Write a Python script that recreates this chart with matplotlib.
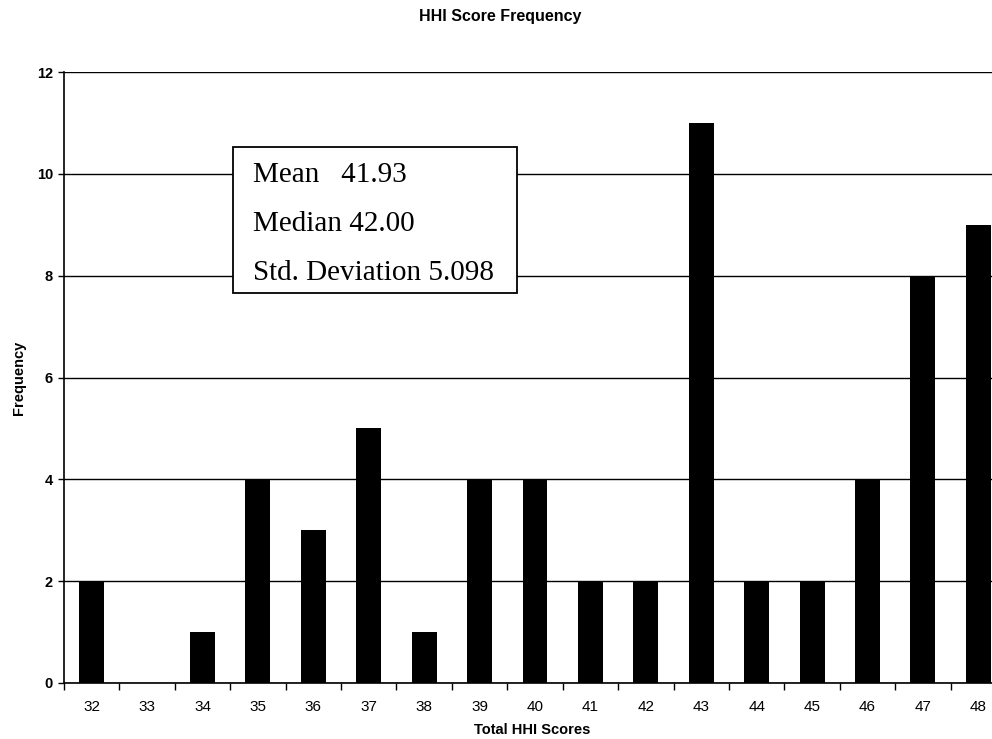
import matplotlib
matplotlib.use("Agg")
import matplotlib.pyplot as plt
import numpy as np

scores = [32, 33, 34, 35, 36, 37, 38, 39, 40, 41, 42, 43, 44, 45, 46, 47, 48]
freq = [2, 0, 1, 4, 3, 5, 1, 4, 4, 2, 2, 11, 2, 2, 4, 8, 9]
stats_lines = ["Mean   41.93", "Median 42.00", "Std. Deviation 5.098"]

plt.rcParams['font.family'] = ['Liberation Sans', 'DejaVu Sans']

fig = plt.figure(figsize=(9.92, 7.39), dpi=100)
ax = fig.add_axes([64/992, 1 - 683/739, (1006 - 64)/992, (683 - 72)/739])

x = np.arange(len(scores))
ax.bar(x, freq, width=0.45, color='black', zorder=3)

ax.set_xlim(-0.5, len(scores) - 0.5)
ax.set_ylim(0, 12)
ax.set_yticks(range(0, 13, 2))
ax.set_xticks(x)
ax.set_xticklabels([str(s) for s in scores], fontsize=11)
ax.set_xticks(np.arange(-0.5, len(scores), 1), minor=True)
ax.tick_params(axis='x', which='major', length=0, pad=12)
ax.tick_params(axis='x', which='minor', length=5, width=1, direction='out')
ax.tick_params(axis='y', length=4, width=1, labelsize=10.5, pad=4)
for lab in ax.get_yticklabels():
    lab.set_fontweight('bold')

ax.grid(axis='y', color='black', linewidth=1, zorder=0)
ax.spines['top'].set_visible(False)
ax.spines['right'].set_visible(False)
ax.spines['left'].set_linewidth(1.2)
ax.spines['bottom'].set_linewidth(1.2)

ax.set_ylabel("Frequency", fontsize=10.5, fontweight='bold', labelpad=8)
fig.text(532/992, 1 - 730/739, "Total HHI Scores", fontsize=10.5,
         fontweight='bold', ha='center', va='center')
fig.text(500/992, 1 - 17/739, "HHI Score Frequency",
         fontsize=11.5, fontweight='bold', ha='center', va='center')

# stats box
box = plt.Rectangle((233/992, 1 - 293/739), (517 - 233)/992, (293 - 147)/739,
                    transform=fig.transFigure, facecolor='white', edgecolor='black',
                    linewidth=1.3, zorder=5)
fig.patches.append(box)
for i, line in enumerate(stats_lines):
    fig.text(253/992, 1 - (175 + 49 * i)/739, line, fontsize=21,
             family='Liberation Serif', ha='left', va='center', zorder=6)

fig.savefig("out.png", dpi=100)
